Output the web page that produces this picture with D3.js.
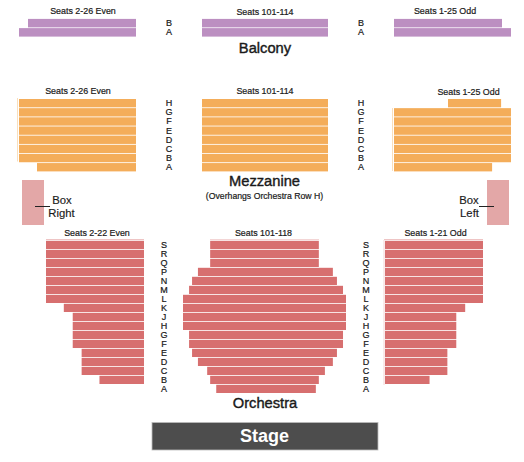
<!DOCTYPE html>
<html><head><meta charset="utf-8">
<script src="https://cdn.jsdelivr.net/npm/d3@7/dist/d3.min.js"></script>
<style>html,body{margin:0;padding:0;background:#fff}svg{display:block}text{font-family:"Liberation Sans",Arial,sans-serif;fill:#1a1a1a}</style>
</head><body><svg id="c" width="524" height="462"></svg>
<script>
const balconyRows = ["B","A"];
const mezzRows = ["H","G","F","E","D","C","B","A"];
const orchRows = ["S","R","Q","P","N","M","L","K","J","H","G","F","E","D","C","B","A"];

// seats in each row (side blocks: counted outward from the aisle; null = no seats)
const balconyLeftSeats = [12,13];
const balconyCenterSeats = [14,14];
const balconyRightSeats = [12,13];
const mezzLeftSeats = [13,13,13,13,13,13,13,11];
const mezzCenterSeats = [14,14,14,14,14,14,14,14];
const mezzRightFrom = [6,0,0,0,0,0,0,0];
const mezzRightTo = [11.9,13,13,13,13,13,13,10.9];
const orchSideSeats = [11,11,11,11,11,11,11,9,8,8,8,8,7,7,7,5,null];
const orchCenterFrom = [3,3,3,1.65,1,0.67,0,0,0,0,0.67,0.67,1,1.65,2.67,3,3.67];
const orchCenterTo = [15,15,15,16.55,17,17.67,18,18,18,18,17.67,17.67,17,16.55,15.67,15,14.67];

const colors = {balcony:"#bc8fc1", mezz:"#f4ad5a", orch:"#d76f6f", box:"#e3a7a7", stage:"#4d4d4d"};
const svg = d3.select("#c");

const yBalc = d3.scaleBand().domain(balconyRows).range([18.9,36.6]).paddingInner(0.08);
const yMezz = d3.scaleBand().domain(mezzRows).range([99,171.4]).paddingInner(0.09);
const yOrch = d3.scaleBand().domain(orchRows).range([240.8,393]).paddingInner(0.09);

const seatLM = d3.scaleLinear().domain([0,13]).range([136,19]);
const seatCM = d3.scaleLinear().domain([0,14]).range([202,328]);
const seatRM = d3.scaleLinear().domain([0,13]).range([394,511]);
const seatLO = d3.scaleLinear().domain([0,11]).range([144,46]);
const seatCO = d3.scaleLinear().domain([0,18]).range([183,346]);
const seatRO = d3.scaleLinear().domain([0,11]).range([385,483]);

function block(rows, y, x, from, to, color){
  svg.append("g").selectAll("rect")
    .data(rows.map((r,i)=>({r,a:from[i],b:to[i]})).filter(d=>d.b!=null))
    .join("rect")
    .attr("x",d=>Math.min(x(d.a),x(d.b)))
    .attr("width",d=>Math.abs(x(d.b)-x(d.a)))
    .attr("y",d=>y(d.r))
    .attr("height",y.bandwidth())
    .attr("fill",color);
}
const zeros = rows => rows.map(()=>0);
block(balconyRows,yBalc,seatLM,zeros(balconyRows),balconyLeftSeats,colors.balcony);
block(balconyRows,yBalc,seatCM,zeros(balconyRows),balconyCenterSeats,colors.balcony);
block(balconyRows,yBalc,seatRM,zeros(balconyRows),balconyRightSeats,colors.balcony);
block(mezzRows,yMezz,seatLM,zeros(mezzRows),mezzLeftSeats,colors.mezz);
block(mezzRows,yMezz,seatCM,zeros(mezzRows),mezzCenterSeats,colors.mezz);
block(mezzRows,yMezz,seatRM,mezzRightFrom,mezzRightTo,colors.mezz);
block(orchRows,yOrch,seatLO,zeros(orchRows),orchSideSeats,colors.orch);
block(orchRows,yOrch,seatCO,orchCenterFrom,orchCenterTo,colors.orch);
block(orchRows,yOrch,seatRO,zeros(orchRows),orchSideSeats,colors.orch);

// pale hairlines along section edges
const paleEdges = [
 [17.5,98,17.5,161.5,"#f9dfbd"],[392.5,108,392.5,171,"#f9dfbd"],
 [46,239.5,144,239.5,"#eec4c4"],[210,239.5,319,239.5,"#f3d5d5"],[384,239.5,483,239.5,"#eec4c4"],
 [384,240,384,385,"#f3d5d5"]
];
svg.append("g").selectAll("line").data(paleEdges).join("line")
  .attr("x1",d=>d[0]).attr("y1",d=>d[1]).attr("x2",d=>d[2]).attr("y2",d=>d[3])
  .attr("stroke",d=>d[4]).attr("stroke-width",1);

function rowAxis(y,x){
  const g = svg.append("g").attr("transform",`translate(${x},0)`)
    .call(d3.axisLeft(y).tickSize(0).tickPadding(0));
  g.select(".domain").remove();
  g.selectAll("text").attr("text-anchor","middle").attr("x",0)
    .style("font-family",'"Liberation Sans",Arial,sans-serif').style("font-size","9px").style("font-weight","400")
    .attr("fill","#111").attr("stroke","#111").attr("stroke-width",0.2);
}
[169,361].forEach(x=>{rowAxis(yBalc,x);rowAxis(yMezz,x);});
[164,366].forEach(x=>rowAxis(yOrch,x));

const labels = [
 ["Seats 2-26 Even",83,14,8.9],["Seats 101-114",265,15,8.9],["Seats 1-25 Odd",445,14,8.9],
 ["Seats 2-26 Even",78,94,8.9],["Seats 101-114",265,94,8.9],["Seats 1-25 Odd",468.5,95,8.9],
 ["Seats 2-22 Even",97,236,8.9],["Seats 101-118",263.5,236,8.9],["Seats 1-21 Odd",435.5,236,8.9],
 ["(Overhangs Orchestra Row H)",264.5,199,8.7]
];
svg.append("g").selectAll("text").data(labels).join("text")
  .attr("x",d=>d[1]).attr("y",d=>d[2]).attr("text-anchor","middle")
  .attr("font-size",d=>d[3]).attr("stroke","#1a1a1a").attr("stroke-width",0.2).text(d=>d[0]);

const titles = [["Balcony",265,53],["Mezzanine",264.5,186],["Orchestra",265,408]];
svg.append("g").selectAll("text").data(titles).join("text")
  .attr("x",d=>d[1]).attr("y",d=>d[2]).attr("text-anchor","middle")
  .attr("font-size",14.7).attr("stroke","#1a1a1a").attr("stroke-width",0.4).text(d=>d[0]);

// boxes
svg.append("rect").attr("x",22).attr("y",180).attr("width",22).attr("height",45).attr("fill",colors.box);
svg.append("rect").attr("x",487).attr("y",180).attr("width",22).attr("height",45).attr("fill",colors.box);
svg.append("line").attr("x1",35).attr("x2",50).attr("y1",206.5).attr("y2",206.5).attr("stroke","#222");
svg.append("line").attr("x1",479).attr("x2",494).attr("y1",206.5).attr("y2",206.5).attr("stroke","#222");
const boxText = [["Box",62,204],["Right",61.5,217],["Box",469,204],["Left",469.5,217]];
svg.append("g").selectAll("text").data(boxText).join("text")
  .attr("x",d=>d[1]).attr("y",d=>d[2]).attr("text-anchor","middle")
  .attr("font-size",11.3).attr("stroke","#1a1a1a").attr("stroke-width",0.15).text(d=>d[0]);

// stage
svg.append("rect").attr("x",152).attr("y",422.5).attr("width",226).attr("height",27.5)
  .attr("fill",colors.stage).attr("stroke","#bbb").attr("stroke-width",0.8);
svg.append("text").attr("x",264.5).attr("y",442).attr("text-anchor","middle")
  .attr("font-size",18).attr("font-weight",700).style("fill","#fff").text("Stage");
</script></body></html>
